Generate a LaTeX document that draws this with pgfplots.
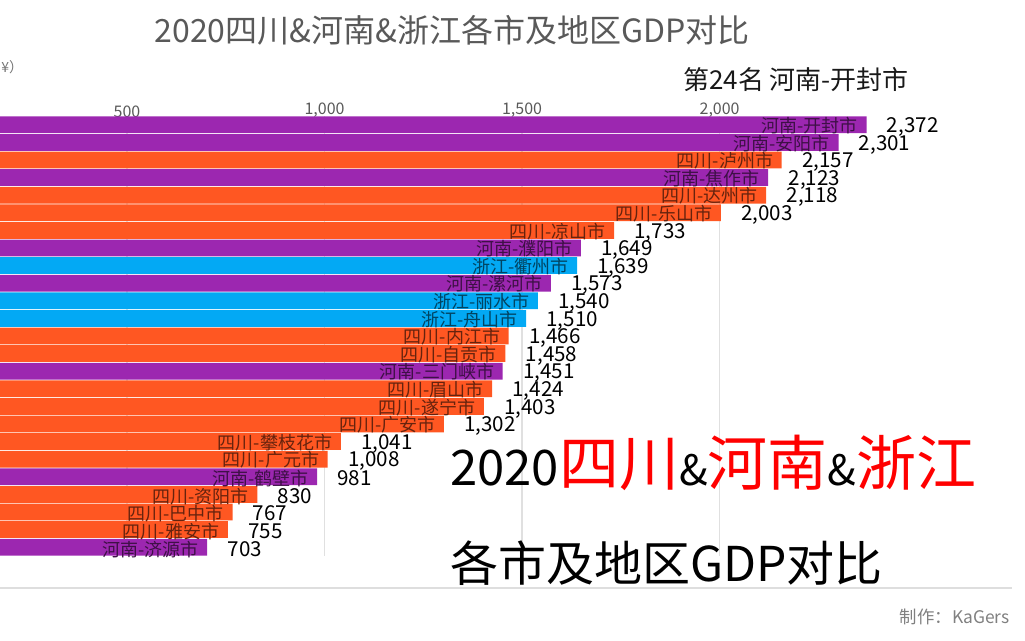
\documentclass[border=0pt]{standalone}
\usepackage{fontspec}
\setmainfont{Noto Sans CJK SC}
\usepackage{pgfplots}
\pgfplotsset{compat=1.18}
\usepackage{pgfplotstable}
\definecolor{hn}{HTML}{9C27B0}
\definecolor{sc}{HTML}{FF5722}
\definecolor{zj}{HTML}{03A9F4}
\definecolor{titlegrey}{HTML}{595959}

\pgfplotstableread{
y v name
3 2157 四川-泸州市
5 2118 四川-达州市
6 2003 四川-乐山市
7 1733 四川-凉山市
13 1466 四川-内江市
14 1458 四川-自贡市
16 1424 四川-眉山市
17 1403 四川-遂宁市
18 1302 四川-广安市
19 1041 四川-攀枝花市
20 1008 四川-广元市
22 830 四川-资阳市
23 767 四川-巴中市
24 755 四川-雅安市
}\sichuan

\pgfplotstableread{
y v name
1 2372 河南-开封市
2 2301 河南-安阳市
4 2123 河南-焦作市
8 1649 河南-濮阳市
10 1573 河南-漯河市
15 1451 河南-三门峡市
21 981 河南-鹤壁市
25 703 河南-济源市
}\henan

\pgfplotstableread{
y v name
9 1639 浙江-衢州市
11 1540 浙江-丽水市
12 1510 浙江-舟山市
}\zhejiang

\pgfkeys{/pgf/number format/.cd,1000 sep={,}}

\pgfplotsset{
  barlab/.style={
    xbar, bar shift=0pt, bar width=0.95, draw=none, fill=#1,
    point meta=explicit symbolic,
    visualization depends on={\thisrow{v} \as \barval},
    nodes near coords={\llap{\fontsize{9}{9}\selectfont\color{black!60!#1}\pgfplotspointmeta\hspace{4.5pt}}\hspace{10pt}\pgfmathprintnumber{\barval}},
    nodes near coords style={anchor=west, inner sep=0pt, font=\fontsize{10.3}{10.3}\selectfont, text=black, yshift=-1pt},
  }
}

\begin{document}
\begin{tikzpicture}[x=0.5pt,y=0.5pt]
\begin{axis}[
  at={(-35.25pt,-58pt)}, anchor=north west,
  scale only axis, width=547.75pt, height=220pt,
  xmin=0, xmax=2773, ymin=0.5, ymax=25.5, y dir=reverse,
  axis line style={draw=none}, major tick length=0pt,
  ytick=\empty,
  xtick={500,1000,1500,2000}, xticklabel pos=upper,
  xmajorgrids, major grid style={draw=black!12, line width=0.6pt},
  scaled x ticks=false,
  xticklabel style={font=\fontsize{8}{8}\selectfont, text=black!65, yshift=-4.5pt},
  /pgf/number format/assume math mode=true,
  clip=false,
]
\addplot[barlab=sc] table[x=v, y=y, meta=name] {\sichuan};
\addplot[barlab=hn] table[x=v, y=y, meta=name] {\henan};
\addplot[barlab=zj] table[x=v, y=y, meta=name] {\zhejiang};
\end{axis}

% titles
\node[font=\fontsize{16}{16}\selectfont, text=titlegrey] at (452,-30) {2020四川\&河南\&浙江各市及地区GDP对比};
\node[font=\fontsize{13}{13}\selectfont, text=black!90] at (796,-80) {第24名 河南-开封市};
\node[anchor=west, font=\fontsize{7}{7}\selectfont, text=black!55, inner sep=0pt] at (1,-67) {¥）};

% big overlay text
\node[anchor=base west, inner sep=0pt] at (450,-486) {{\fontsize{24.5}{24.5}\selectfont 2020}{\fontsize{30}{30}\selectfont\color{red}四川}{\fontsize{21}{21}\selectfont \&}{\fontsize{30}{30}\selectfont\color{red}河南}{\fontsize{21}{21}\selectfont \&}{\fontsize{30}{30}\selectfont\color{red}浙江}};
\node[anchor=base west, inner sep=0pt, font=\fontsize{24}{24}\selectfont] at (450,-582) {各市及地区GDP对比};

% bottom separator and credit
\draw[black!13, line width=1pt] (0,-588) -- (1012,-588);
\node[anchor=east, font=\fontsize{8.7}{8.7}\selectfont, text=black!50, inner sep=0pt] at (1010,-617) {制作：KaGers};

\pgfresetboundingbox
\path[use as bounding box] (0,0) rectangle (1025,-641);
\end{tikzpicture}
\end{document}
